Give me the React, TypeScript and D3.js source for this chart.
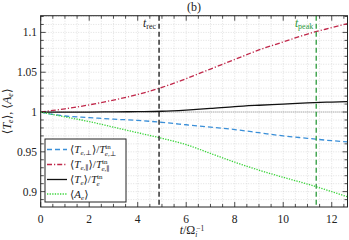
import React from "react";
import * as d3 from "d3";

const tGrid = [0, 0.5, 1, 2, 3, 4, 5, 6, 7, 8, 9, 10, 11, 12, 12.65];
const tePerp = [1.0, 0.997, 0.995, 0.993, 0.991, 0.9895, 0.987, 0.984, 0.981, 0.978, 0.974, 0.970, 0.967, 0.964, 0.9625];
const tePar = [1.0, 1.002, 1.004, 1.009, 1.015, 1.022, 1.031, 1.042, 1.054, 1.066, 1.078, 1.088, 1.098, 1.106, 1.111];
const teTot = [1.0, 1.0, 1.0, 1.0, 1.0002, 1.0005, 1.001, 1.0025, 1.0045, 1.0068, 1.0085, 1.010, 1.0115, 1.0125, 1.013];
const aE = [1.0, 0.997, 0.994, 0.988, 0.981, 0.974, 0.967, 0.959, 0.948, 0.937, 0.927, 0.918, 0.9095, 0.900, 0.8935];

const xTicks = [0, 2, 4, 6, 8, 10, 12];
const yTicks = [0.9, 0.95, 1, 1.05, 1.1];
const tRec = 4.88;
const tPeak = 11.36;

const W = 349, H = 240;
const L = 40.7, R = 347.5, T = 15.7, B = 207;

export default function App() {
  const x = d3.scaleLinear().domain([0, 12.65]).range([L, R]);
  const y = d3.scaleLinear().domain([0.8807, 1.121]).range([B, T]);
  const line = (vals: number[]) =>
    d3.line<number>().x((_, i) => x(tGrid[i])).y((v) => y(v)).curve(d3.curveMonotoneX)(vals) || "";

  const xMinor = d3.range(0, 12.65, 0.5);
  const yMinor = d3.range(0.89, 1.121, 0.01).map((v) => Math.round(v * 100) / 100);
  const font = "Liberation Serif, DejaVu Serif, serif";

  const series = [
    { vals: tePerp, color: "#3a8fd8", dash: "5,3" },
    { vals: tePar, color: "#c0284a", dash: "5,2,1.2,2" },
    { vals: teTot, color: "#111", dash: "" },
    { vals: aE, color: "#3ad43a", dash: "1.3,1.3" },
  ];

  const legY = [149.5, 164.5, 179.5, 194];
  const fs = 11;

  return (
    <svg width={W} height={H} fontFamily={font} style={{ position: "absolute", left: 0, top: 0 }}>
      <rect x={0} y={0} width={W} height={H} fill="#fff" />
      <defs>
        <clipPath id="pc">
          <rect x={L} y={T} width={R - L} height={B - T} />
        </clipPath>
      </defs>
      {/* grid */}
      {xMinor.map((v) => (
        <line key={"gx" + v} x1={x(v)} x2={x(v)} y1={T} y2={B} stroke="#ccc" strokeWidth={0.6} strokeDasharray="1,1.5" />
      ))}
      {yMinor.map((v) => (
        <line key={"gy" + v} x1={L} x2={R} y1={y(v)} y2={y(v)} stroke="#ccc" strokeWidth={0.6} strokeDasharray="1,1.5" />
      ))}
      <line x1={L} x2={R} y1={y(1)} y2={y(1)} stroke="#888" strokeWidth={0.9} strokeDasharray="1,1" />
      {/* ticks */}
      {xMinor.map((v) => {
        const len = v % 2 === 0 ? 5 : 3;
        return (
          <g key={"tx" + v}>
            <line x1={x(v)} x2={x(v)} y1={B} y2={B - len} stroke="#222" strokeWidth={0.8} />
            <line x1={x(v)} x2={x(v)} y1={T} y2={T + len} stroke="#222" strokeWidth={0.8} />
          </g>
        );
      })}
      {yMinor.map((v) => {
        const major = Math.abs(Math.round(v * 20) - v * 20) < 1e-6;
        const len = major ? 5 : 3;
        return (
          <g key={"ty" + v}>
            <line x1={L} x2={L + len} y1={y(v)} y2={y(v)} stroke="#222" strokeWidth={0.8} />
            <line x1={R} x2={R - len} y1={y(v)} y2={y(v)} stroke="#222" strokeWidth={0.8} />
          </g>
        );
      })}
      {xTicks.map((v) => (
        <text key={"lx" + v} x={x(v)} y={222.5} fontSize={11.5} textAnchor="middle" fill="#222">{v}</text>
      ))}
      {yTicks.map((v) => (
        <text key={"ly" + v} x={37} y={y(v) + 4} fontSize={11.5} textAnchor="end" fill="#222">{String(v)}</text>
      ))}
      {/* curves */}
      <g clipPath="url(#pc)">
        {series.map((s, i) => (
          <path key={i} d={line(s.vals)} fill="none" stroke={s.color} strokeWidth={1.3} strokeDasharray={s.dash || undefined} />
        ))}
        <line x1={x(tRec)} x2={x(tRec)} y1={T} y2={B} stroke="#111" strokeWidth={1.3} strokeDasharray="5,3" />
        <line x1={x(tPeak)} x2={x(tPeak)} y1={T} y2={B} stroke="#2a9a3a" strokeWidth={1.3} strokeDasharray="5,3" />
      </g>
      <text x={x(tRec) - 3} y={27} fontSize={11.5} textAnchor="end" fill="#222">
        <tspan fontStyle="italic">t</tspan>
        <tspan fontSize={8} dy={2}>rec</tspan>
      </text>
      <text x={x(tPeak) - 3} y={27} fontSize={11.5} textAnchor="end" fill="#2a9a3a">
        <tspan fontStyle="italic">t</tspan>
        <tspan fontSize={8} dy={2}>peak</tspan>
      </text>
      {/* frame */}
      <rect x={L} y={T} width={R - L} height={B - T} fill="none" stroke="#222" strokeWidth={1} />
      {/* title */}
      <text x={194} y={11} fontSize={12} textAnchor="middle" fill="#222">(b)</text>
      {/* axis labels */}
      <text x={192} y={234} fontSize={12} textAnchor="middle" fill="#222">
        <tspan fontStyle="italic">t</tspan>
        <tspan>/Ω</tspan>
        <tspan fontSize={7.5} fontStyle="italic" dy={2.5}>i</tspan>
        <tspan fontSize={7.5} dy={-6} dx={-1}>−1</tspan>
      </text>
      <text transform={`translate(11,${(T + B) / 2}) rotate(-90)`} fontSize={12} textAnchor="middle" fill="#222">
        <tspan>⟨</tspan>
        <tspan fontStyle="italic">T</tspan>
        <tspan fontSize={8} fontStyle="italic" dy={2}>e</tspan>
        <tspan dy={-2}>⟩, ⟨</tspan>
        <tspan fontStyle="italic">A</tspan>
        <tspan fontSize={8} fontStyle="italic" dy={2}>e</tspan>
        <tspan dy={-2}>⟩</tspan>
      </text>
      {/* legend */}
      <rect x={45} y={139} width={81} height={63} fill="#fff" stroke="#222" strokeWidth={1} />
      {series.map((s, i) => (
        <line key={"ll" + i} x1={47} x2={67} y1={legY[i]} y2={legY[i]} stroke={s.color} strokeWidth={1.3} strokeDasharray={s.dash || undefined} />
      ))}
      <text x={70} y={legY[0] + 3.5} fontSize={fs} fill="#222">
        <tspan>⟨</tspan><tspan fontStyle="italic">T</tspan>
        <tspan fontSize={7} fontStyle="italic" dy={2}>e,⊥</tspan>
        <tspan dy={-2}>⟩/</tspan><tspan fontStyle="italic">T</tspan>
        <tspan fontSize={7} dy={-4}>in</tspan>
        <tspan fontSize={7} fontStyle="italic" dy={7} dx={-6}>e,⊥</tspan>
      </text>
      <text x={70} y={legY[1] + 3.5} fontSize={fs} fill="#222">
        <tspan>⟨</tspan><tspan fontStyle="italic">T</tspan>
        <tspan fontSize={7} fontStyle="italic" dy={2}>e,∥</tspan>
        <tspan dy={-2}>⟩/</tspan><tspan fontStyle="italic">T</tspan>
        <tspan fontSize={7} dy={-4}>in</tspan>
        <tspan fontSize={7} fontStyle="italic" dy={7} dx={-6}>e,∥</tspan>
      </text>
      <text x={70} y={legY[2] + 3.5} fontSize={fs} fill="#222">
        <tspan>⟨</tspan><tspan fontStyle="italic">T</tspan>
        <tspan fontSize={7} fontStyle="italic" dy={2}>e</tspan>
        <tspan dy={-2}>⟩/</tspan><tspan fontStyle="italic">T</tspan>
        <tspan fontSize={7} dy={-4}>in</tspan>
        <tspan fontSize={7} fontStyle="italic" dy={7} dx={-6}>e</tspan>
      </text>
      <text x={70} y={legY[3] + 3.5} fontSize={fs} fill="#222">
        <tspan>⟨</tspan><tspan fontStyle="italic">A</tspan>
        <tspan fontSize={7} fontStyle="italic" dy={2}>e</tspan>
        <tspan dy={-2}>⟩</tspan>
      </text>
    </svg>
  );
}
